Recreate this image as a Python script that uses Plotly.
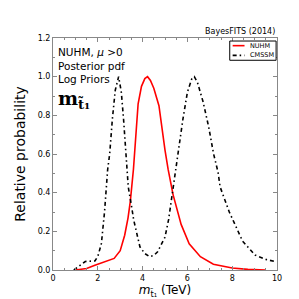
import plotly.graph_objects as go

nuhm_x = [1.0, 1.5, 1.87, 2.3, 2.73, 3.0, 3.2, 3.35, 3.45, 3.59, 3.7, 3.8, 3.95, 4.1, 4.22,
          4.35, 4.5, 4.73, 5.0, 5.14, 5.36, 5.72, 6.08, 6.58, 7.16, 8.0, 8.7, 9.47]
nuhm_y = [0.0, 0.008, 0.024, 0.04, 0.06, 0.1, 0.18, 0.27, 0.354, 0.52, 0.7, 0.86, 0.95, 0.99, 1.0,
          0.98, 0.94, 0.85, 0.62, 0.52, 0.39, 0.236, 0.136, 0.069, 0.03, 0.01, 0.003, 0.0]

cmssm_x = [0.93, 1.2, 1.44, 1.87, 2.0, 2.16, 2.3, 2.44, 2.53, 2.65, 2.78, 2.93, 3.05, 3.15, 3.28,
           3.36, 3.52, 3.6, 3.88, 4.1, 4.31, 4.5, 4.67, 5.0, 5.16, 5.44, 5.59, 5.8, 6.0, 6.2,
           6.31, 6.45, 6.7, 6.95, 7.17, 7.37, 7.46, 7.87, 8.46, 9.02, 9.5, 9.9]
cmssm_y = [0.0, 0.025, 0.044, 0.047, 0.07, 0.136, 0.30, 0.52, 0.6, 0.78, 0.93, 1.0, 0.92, 0.78, 0.55,
           0.43, 0.32, 0.26, 0.12, 0.085, 0.069, 0.075, 0.094, 0.17, 0.26, 0.5, 0.6, 0.78, 0.92, 0.99,
           1.0, 0.97, 0.87, 0.74, 0.6, 0.505, 0.43, 0.30, 0.15, 0.077, 0.055, 0.044]

x_ticks = [0, 2, 4, 6, 8, 10]
y_ticks = [0.0, 0.2, 0.4, 0.6, 0.8, 1.0, 1.2]
series_names = ["NUHM", "CMSSM"]
series_colors = ["red", "black"]
series_dash = ["solid", "4px,3px,1.5px,3px"]

fig = go.Figure()
fig.add_trace(go.Scatter(x=nuhm_x, y=nuhm_y, mode="lines", name=series_names[0],
                         line=dict(color=series_colors[0], width=1.6, dash=series_dash[0])))
fig.add_trace(go.Scatter(x=cmssm_x, y=cmssm_y, mode="lines", name=series_names[1],
                         line=dict(color=series_colors[1], width=1.6, dash=series_dash[1])))

axis_common = dict(showgrid=False, zeroline=False, showline=True, linecolor="#888888",
                   linewidth=1, mirror="ticks", ticks="inside", ticklen=4, tickcolor="#888888",
                   tickfont=dict(family="DejaVu Sans", size=8, color="black"))
fig.update_xaxes(range=[0, 10], tickvals=x_ticks, ticktext=[str(v) for v in x_ticks],
                 minor=dict(ticks="inside", ticklen=2, dtick=0.5, tickcolor="#888888"),
                 title=dict(text="<i>m</i><sub>t̃₁</sub> (TeV)", font=dict(family="DejaVu Sans", size=12, color="black"), standoff=4),
                 **axis_common)
fig.update_yaxes(range=[0, 1.2], tickvals=y_ticks, ticktext=[f"{v:.1f}" for v in y_ticks],
                 minor=dict(ticks="inside", ticklen=2, dtick=0.1, tickcolor="#888888"),
                 title=dict(text="Relative probability", font=dict(family="DejaVu Sans", size=14, color="black"), standoff=8),
                 **axis_common)

fig.add_annotation(xref="paper", yref="paper", x=0.015, y=0.975, xanchor="left", yanchor="top",
                   text="NUHM, <i>μ</i> >0<br>Posterior pdf<br>Log Priors", showarrow=False, align="left",
                   font=dict(family="DejaVu Sans", size=10.5, color="black"))
fig.add_annotation(xref="paper", yref="paper", x=0.015, y=0.735, xanchor="left", yanchor="middle",
                   text="<b>m</b><sub><b>t̃₁</b></sub>", showarrow=False,
                   font=dict(family="DejaVu Serif", size=19, color="black"))
fig.add_annotation(xref="paper", yref="paper", x=1.0, y=1.0, xanchor="right", yanchor="bottom",
                   text="BayesFITS (2014)", showarrow=False,
                   font=dict(family="DejaVu Sans", size=8, color="black"))

# manual compact legend
fig.add_shape(type="rect", xref="paper", yref="paper", x0=0.789, x1=0.996, y0=0.904, y1=0.987,
              line=dict(color="black", width=1), fillcolor="white")
row_y = [0.967, 0.925]
for name, col, dash, yy in zip(series_names, series_colors, series_dash, row_y):
    fig.add_shape(type="line", xref="paper", yref="paper", x0=0.802, x1=0.855, y0=yy, y1=yy,
                  line=dict(color=col, width=1.6, dash=dash))
    fig.add_annotation(xref="paper", yref="paper", x=0.872, y=yy, xanchor="left", yanchor="middle",
                       text=name, showarrow=False,
                       font=dict(family="DejaVu Sans", size=6.5, color="black"))

fig.update_layout(width=299, height=299, margin=dict(l=37, r=30, t=30, b=30),
                  paper_bgcolor="white", plot_bgcolor="white", showlegend=False)
fig.write_html("out.html")
